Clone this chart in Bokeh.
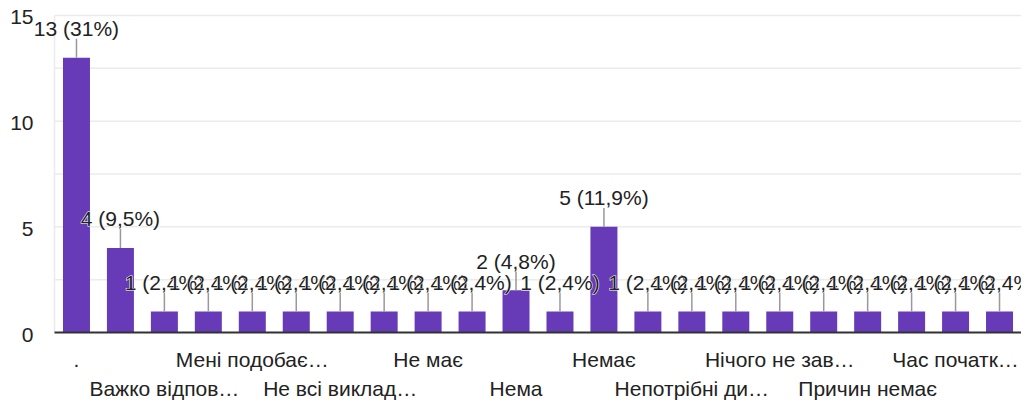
from bokeh.plotting import figure
from bokeh.models import (ColumnDataSource, Range1d, FixedTicker, LinearAxis, Label)
from bokeh.core.properties import value
from bokeh.embed import file_html
from bokeh.resources import INLINE

# ---- data ----
values = [13, 4, 1, 1, 1, 1, 1, 1, 1, 1, 2, 1, 5, 1, 1, 1, 1, 1, 1, 1, 1, 1]
# labels shown under every second bar (Google Charts hides the rest)
tick_labels = [".", "Важко відпов…", "Мені подобає…", "Не всі виклад…", "Не має",
               "Нема", "Немає", "Непотрібні ди…", "Нічого не зав…",
               "Причин немає", "Час початк…"]
y_ticks = [0, 5, 10, 15]
grid_ticks = [0, 2.5, 5, 7.5, 10, 12.5, 15]

FONT = "Liberation Sans"
BAR = "#673ab7"
TXT = "#222222"
GRID = "#ebebeb"

total = sum(values)


def pct(v):
    p = round(v * 100.0 / total, 1)
    s = ("%.1f" % p).rstrip("0").rstrip(".")
    return s.replace(".", ",")


n = len(values)
xs = list(range(n))
ann = ["%d (%s%%)" % (v, pct(v)) for v in values]

# layout (pixels): chart area spans x 54..1021, y 15..334 (value 15 .. 0)
W, H = 1021, 402
area_left, area_right, area_top, area_zero = 54, 1021, 15, 334
frame_bottom = 347
bot_b = H - frame_bottom
px_x = (area_right - area_left) / n
px_y = (area_zero - area_top) / 15.0
x0 = -0.5 - area_left / px_x
y_max = 15 + area_top / px_y
y_min = -(frame_bottom - area_zero) / px_y
leader = 19.0 / px_y

src = ColumnDataSource(dict(x=xs, top=values, y1=[v + leader for v in values]))

p = figure(width=W, height=H, output_backend="svg", toolbar_location=None,
           x_range=Range1d(x0, n - 0.5), y_range=Range1d(y_min, y_max),
           min_border_top=0, min_border_bottom=bot_b,
           min_border_left=0, min_border_right=0)
p.outline_line_color = None
p.background_fill_color = "white"
p.border_fill_color = "white"
p.xgrid.visible = False
p.ygrid.visible = False
p.yaxis.visible = False

# grid lines and left edge of the chart area
p.segment(x0=-0.5, x1=n - 0.5, y0=grid_ticks, y1=grid_ticks, line_color=GRID, line_width=1.5)
p.segment(x0=-0.5, x1=-0.5, y0=0, y1=15, line_color=GRID, line_width=1.5)

# bars
p.vbar(x="x", top="top", bottom=0, width=0.614, source=src, fill_color=BAR, line_color=None)

# baseline
p.segment(x0=-0.5, x1=n - 0.5, y0=0, y1=0, line_color="#333333", line_width=2)

# y tick labels
yt = ColumnDataSource(dict(y=y_ticks, t=[str(t) for t in y_ticks]))
p.text(x=-0.5, y="y", text="t", source=yt, x_offset=-21, y_offset=2,
       text_align="right", text_baseline="middle", text_font=value(FONT),
       text_font_size="21px", text_color=TXT)

# x axes: two rows of labels
row1 = {2 * k: lab for k, lab in enumerate(tick_labels) if k % 2 == 0}
row2 = {2 * k: lab for k, lab in enumerate(tick_labels) if k % 2 == 1}

ax1 = p.xaxis[0]
ax1.ticker = FixedTicker(ticks=list(row1.keys()))
ax1.major_label_overrides = row1
ax1.axis_line_color = None
ax1.major_tick_line_color = None
ax1.minor_tick_line_color = None
ax1.major_tick_out = 0
ax1.major_tick_in = 0
ax1.major_label_standoff = 2
ax1.major_label_text_font = FONT
ax1.major_label_text_font_size = "21px"
ax1.major_label_text_color = TXT

ax2 = LinearAxis(ticker=FixedTicker(ticks=list(row2.keys())), major_label_overrides=row2,
                 axis_line_color=None, major_tick_line_color=None,
                 minor_tick_line_color=None, major_tick_out=0, major_tick_in=0,
                 major_label_standoff=3, major_label_text_font=FONT,
                 major_label_text_font_size="21px", major_label_text_color=TXT)
p.add_layout(ax2, "below")

# leaders
p.segment(x0="x", y0="top", x1="x", y1="y1", source=src, line_color="#999999", line_width=1.5)

# annotations: white halo then text, label by label (later ones cover earlier ones)
for x, v, t in zip(xs, values, ann):
    common = dict(x=x, y=v, text=t, y_offset=29, text_align="center",
                  text_baseline="middle", text_font=FONT, text_font_size="21px",
                  level="overlay")
    p.add_layout(Label(text_color="white", text_outline_color="white", **common))
    p.add_layout(Label(text_color=TXT, **common))

open("out.html", "w").write(file_html(p, INLINE))
